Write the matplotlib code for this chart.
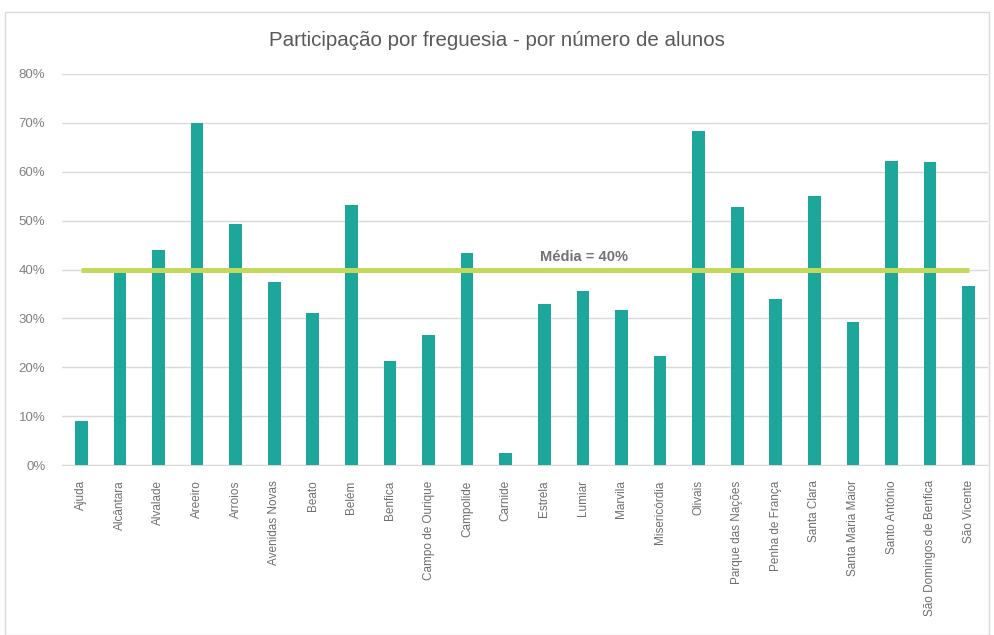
import matplotlib
matplotlib.use("Agg")
import matplotlib.pyplot as plt
from matplotlib.patches import Rectangle
from matplotlib.ticker import PercentFormatter
import numpy as np

categories = ["Ajuda", "Alcântara", "Alvalade", "Areeiro", "Arroios", "Avenidas Novas",
              "Beato", "Belém", "Benfica", "Campo de Ourique", "Campolide", "Carnide",
              "Estrela", "Lumiar", "Marvila", "Misericórdia", "Olivais", "Parque das Nações",
              "Penha de França", "Santa Clara", "Santa Maria Maior", "Santo António",
              "São Domingos de Benfica", "São Vicente"]
values = [0.090, 0.395, 0.439, 0.700, 0.493, 0.374, 0.311, 0.531, 0.213, 0.265, 0.434,
          0.025, 0.329, 0.356, 0.317, 0.224, 0.683, 0.527, 0.340, 0.551, 0.293, 0.622,
          0.620, 0.367]
mean_value = 0.40
mean_label = "Média = 40%"
title = "Participação por freguesia - por número de alunos"
yticks = [0, 0.1, 0.2, 0.3, 0.4, 0.5, 0.6, 0.7, 0.8]

plt.rcParams['font.family'] = ['Liberation Sans', 'DejaVu Sans']

fig = plt.figure(figsize=(9.94, 6.35), dpi=100)
ax = fig.add_axes([62/994, 1-465/635, (988-62)/994, (465-74)/635])

x = np.arange(len(categories))
ax.bar(x, values, width=0.33, color="#1DA69A", zorder=3)
ax.plot([x[0], x[-1]], [mean_value, mean_value], color="#C3D95B", lw=3.6, zorder=4,
        solid_capstyle='butt')
ax.text(11.9, mean_value + 0.012, mean_label, color="#767171", fontsize=10.5,
        fontweight='bold', ha='left', va='bottom', zorder=5)

ax.set_xlim(-0.5, len(categories) - 0.5)
ax.set_ylim(0, 0.8)
ax.set_yticks(yticks)
ax.yaxis.set_major_formatter(PercentFormatter(1.0, decimals=0))
ax.set_xticks(x)
ax.set_xticklabels(categories, rotation=90, fontsize=8.5, color="#6E6E6E")
ax.tick_params(axis='y', labelsize=9.5, colors="#808080", length=0, pad=12)
ax.tick_params(axis='x', length=0, pad=11)
ax.grid(axis='y', color="#D9D9D9", lw=1, zorder=0)
for s in ax.spines.values():
    s.set_visible(False)
ax.spines['bottom'].set_visible(True)
ax.spines['bottom'].set_color("#D9D9D9")

fig.text(0.5, 1-41/635, title, ha='center', va='center', fontsize=14.8, color="#595959")
fig.patches.append(Rectangle((5/994, 0), 984/994, 1-12/635, transform=fig.transFigure,
                             fill=False, edgecolor="#D9D9D9", lw=1))

fig.savefig("out.png", dpi=100)
